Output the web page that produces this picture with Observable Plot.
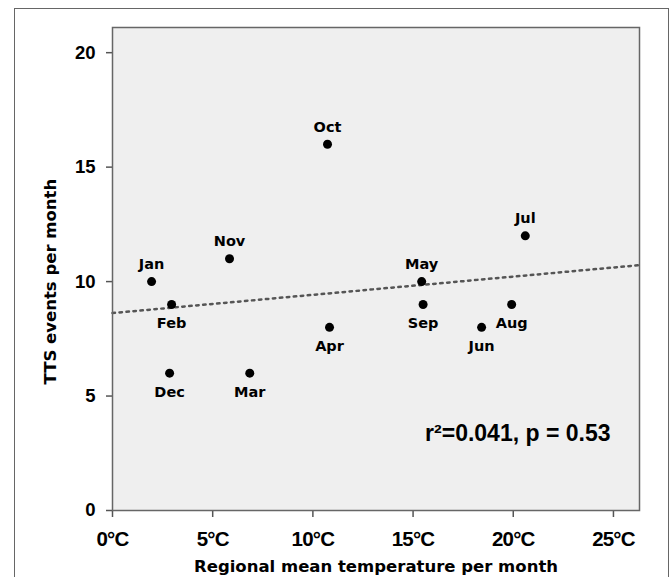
<!DOCTYPE html>
<html>
<head>
<meta charset="utf-8">
<script src="https://cdn.jsdelivr.net/npm/d3@7"></script>
<script src="https://cdn.jsdelivr.net/npm/@observablehq/plot@0.6"></script>
<style>
  html, body { margin: 0; padding: 0; background: #fff; overflow: hidden; }
  #wrap { position: relative; width: 670px; height: 577px; }
  #border { position: absolute; left: 14px; top: 8px; width: 653px; height: 620px; border: 1px solid #666; pointer-events: none; }
  #chart { position: absolute; left: 0; top: 0; }
  g[aria-label="x-axis tick label"] text { letter-spacing: -0.8px; }
  .ttl text { letter-spacing: 0px; }
</style>
</head>
<body>
<div id="wrap"><div id="chart"></div><div id="border"></div></div>
<script>
const months = ["Jan","Feb","Mar","Apr","May","Jun","Jul","Aug","Sep","Oct","Nov","Dec"];
const temps  = [1.95, 2.95, 6.85, 10.83, 15.43, 18.42, 20.6, 19.92, 15.5, 10.73, 5.84, 2.85];
const events = [10, 9, 6, 8, 10, 8, 12, 9, 9, 16, 11, 6];
const labelsAbove = ["Jan","May","Jul","Oct","Nov"];
const xTicks = [0, 5, 10, 15, 20, 25];
const yTicks = [0, 5, 10, 15, 20];
const xDomain = [0, 26.3];
const yDomain = [0, 21.1];
const xTitle = "Regional mean temperature per month";
const yTitle = "TTS events per month";
const statText = "r\u00B2=0.041, p = 0.53";

const data = months.map((m, i) => ({month: m, t: temps[i], n: events[i]}));

// least-squares fit of the data
const mx = d3.mean(temps), my = d3.mean(events);
const slope = d3.sum(temps, (x, i) => (x - mx) * (events[i] - my)) / d3.sum(temps, x => (x - mx) ** 2);
const intercept = my - slope * mx;
const reg = xDomain.map(x => ({t: x, n: intercept + slope * x}));

const FONT = "'Liberation Sans', Arial, sans-serif";
const FONT2 = "'DejaVu Sans', 'Liberation Sans', sans-serif";

const chart = Plot.plot({
  width: 670,
  height: 577,
  marginLeft: 112,
  marginRight: 31,
  marginTop: 27,
  marginBottom: 67,
  style: {background: "transparent", fontFamily: FONT, color: "#000"},
  x: {domain: xDomain},
  y: {domain: yDomain},
  marks: [
    Plot.frame({fill: "#efefef", stroke: null}),
    Plot.axisX({ticks: xTicks, tickFormat: d => d + "\u00B0C", tickSize: 7, tickPadding: 14, label: null,
      fontSize: 20.5, fontWeight: "bold", stroke: "#555", strokeWidth: 1.5, fill: "#000"}),
    Plot.axisY({ticks: yTicks, tickSize: 6, tickPadding: 11, label: null,
      fontSize: 18.5, fontWeight: "bold", stroke: "#555", strokeWidth: 1.5, fill: "#000"}),
    Plot.line(reg, {x: "t", y: "n", stroke: "#555", strokeWidth: 2.5, strokeDasharray: "2.5 4.5"}),
    Plot.dot(data, {x: "t", y: "n", r: 4.5, fill: "#000", stroke: null}),
    Plot.text(data.filter(d => labelsAbove.includes(d.month)), {x: "t", y: "n", text: "month", dy: -17,
      fontSize: 14.5, fontWeight: "bold", fontFamily: FONT2, fill: "#000"}),
    Plot.text(data.filter(d => !labelsAbove.includes(d.month)), {x: "t", y: "n", text: "month", dy: 19,
      fontSize: 14.5, fontWeight: "bold", fontFamily: FONT2, fill: "#000"}),
    Plot.text([statText], {frameAnchor: "bottom-right", dx: -29, dy: -70, textAnchor: "end", lineAnchor: "bottom",
      fontSize: 23, fontWeight: "bold", fill: "#000"}),
    Plot.text([xTitle], {frameAnchor: "bottom", dy: 56, lineAnchor: "middle",
      fontSize: 16.5, fontWeight: "bold", fontFamily: FONT2, fill: "#000", className: "ttl"}),
    Plot.text([yTitle], {frameAnchor: "left", y: () => d3.mean(d3.extent(yTicks)), dx: -62, rotate: -90,
      lineAnchor: "middle", textAnchor: "middle",
      fontSize: 16.5, fontWeight: "bold", fontFamily: FONT2, fill: "#000", className: "ttl"}),
    Plot.frame({stroke: "#666", strokeWidth: 1.5})
  ]
});
document.getElementById("chart").appendChild(chart);
</script>
</body>
</html>
